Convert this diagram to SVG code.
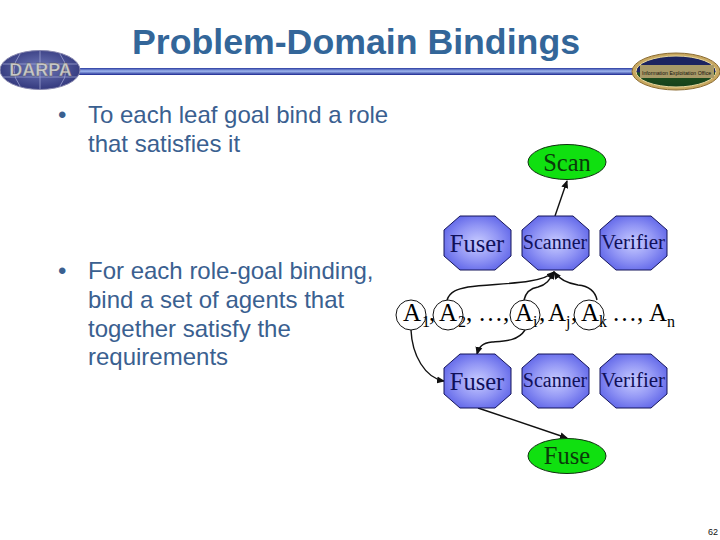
<svg xmlns="http://www.w3.org/2000/svg" width="720" height="540" viewBox="0 0 720 540">
<style>
.s{font-family:"Liberation Sans",Arial,sans-serif}
.r{font-family:"Liberation Serif","Times New Roman",serif}
.b{font-size:24px;fill:#3a6090}
.o{fill:url(#og);stroke:#14145a;stroke-width:1}
.ol{font-size:24.500px;fill:#10105a;text-anchor:middle}
.os{font-size:20px;fill:#10105a;text-anchor:middle}
.ov{font-size:21px;fill:#10105a;text-anchor:middle}
.g{fill:#10e010;stroke:#103010;stroke-width:1}
.gl{font-size:24.500px;fill:#0a3a0a;text-anchor:middle}
.a{font-size:25px;fill:#000}
.sub{font-size:16px;fill:#000}
.c{fill:none;stroke:#111;stroke-width:1}
.e{fill:none;stroke:#111;stroke-width:1.400}
</style>
<defs>
<radialGradient id="og" cx="50%" cy="50%" r="58%"><stop offset="0" stop-color="#c8ccff"/><stop offset="0.55" stop-color="#9296f5"/><stop offset="1" stop-color="#5e64e8"/></radialGradient>
<linearGradient id="bar" x1="0" y1="0" x2="0" y2="1"><stop offset="0" stop-color="#2a3aa0"/><stop offset="0.45" stop-color="#a0b8f0"/><stop offset="1" stop-color="#1c2890"/></linearGradient>
<radialGradient id="globe" cx="50%" cy="45%" r="60%"><stop offset="0" stop-color="#6f78b8"/><stop offset="1" stop-color="#2e3378"/></radialGradient>
<linearGradient id="ie" x1="0" y1="0" x2="0" y2="1"><stop offset="0" stop-color="#1c2460"/><stop offset="0.5" stop-color="#1c2460"/><stop offset="0.55" stop-color="#1e5020"/><stop offset="1" stop-color="#16401a"/></linearGradient>
<marker id="ar" markerWidth="8" markerHeight="8" refX="7" refY="4" orient="auto" markerUnits="userSpaceOnUse"><path d="M0,0.500L8,4L0,7.500Z" fill="#111"/></marker>
<polygon id="oct" points="-17.500,-27 17.500,-27 33.500,-13 33.500,13 17.500,27 -17.500,27 -33.500,13 -33.500,-13"/>
</defs>

<g id="header">
<text class="s" x="356" y="54" font-size="35.700" font-weight="700" fill="#336699" text-anchor="middle">Problem-Domain Bindings</text>
<rect x="78" y="68" width="556" height="7" fill="url(#bar)"/>
</g>

<g id="darpa-logo">
<ellipse cx="40" cy="70" rx="40" ry="19.500" fill="url(#globe)" stroke="#8a8ab0" stroke-width="1"/>
<path d="M40,51V89M20,54Q8,70 20,86M60,54Q72,70 60,86M3,64H77M3,77H77" fill="none" stroke="#a8acd8" stroke-width="0.700"/>
<text class="s" x="40.500" y="76" font-size="18" font-weight="700" fill="#c8c8c8" stroke="#555" stroke-width="0.300" text-anchor="middle">DARPA</text>
</g>

<g id="ieo-logo">
<ellipse cx="676" cy="71.500" rx="44" ry="18.500" fill="#c8a860" stroke="#8a6a30" stroke-width="1"/>
<ellipse cx="676" cy="71.500" rx="40" ry="15.500" fill="url(#ie)" stroke="#e8d8a0" stroke-width="1"/>
<rect x="640" y="65" width="74" height="13" fill="#a89a68"/>
<text class="s" x="642" y="74.500" font-size="5.200" fill="#10100a">Information Exploitation Office</text>
</g>

<g id="bullets" class="s b">
<text x="58" y="123">•</text>
<text x="88" y="123">To each leaf goal bind a role</text>
<text x="88" y="152">that satisfies it</text>
<text x="58" y="279">•</text>
<text x="88" y="279">For each role-goal binding,</text>
<text x="88" y="308">bind a set of agents that</text>
<text x="88" y="337">together satisfy the</text>
<text x="88" y="365">requirements</text>
</g>

<g id="connectors">
<path class="e" d="M555,216L567,181" marker-end="url(#ar)"/>
<path class="e" d="M447,300C450,291 458,289 468,287C495,283 540,285 554,272" marker-end="url(#ar)"/>
<path class="e" d="M524,300C526,291 532,288 538,287C546,285 550,280 554,272" marker-end="url(#ar)"/>
<path class="e" d="M597,300C595,290 588,286 578,285C566,283 559,279 554,272" marker-end="url(#ar)"/>
<path class="e" d="M411,330C412,355 425,378 444,381" marker-end="url(#ar)"/>
<path class="e" d="M525,330C518,341 505,341 492,342C482,343 479,347 477,354" marker-end="url(#ar)"/>
<path class="e" d="M478,408L567,438" marker-end="url(#ar)"/>
</g>

<g id="node-scan"><ellipse class="g" cx="567" cy="162" rx="39" ry="17.500"/><text class="r gl" x="567" y="171">Scan</text></g>
<g id="node-fuser-top"><use href="#oct" class="o" x="477.500" y="243"/><text class="r ol" x="477" y="252">Fuser</text></g>
<g id="node-scanner-top"><use href="#oct" class="o" x="555.500" y="243"/><text class="r os" x="555" y="249">Scanner</text></g>
<g id="node-verifier-top"><use href="#oct" class="o" x="633.500" y="243"/><text class="r ov" x="633" y="249">Verifier</text></g>

<g id="agents">
<text class="r a" x="403" y="321">A</text><text class="r sub" x="422" y="327">1</text><text class="r a" x="429" y="321">,</text>
<text class="r a" x="439" y="321">A</text><text class="r sub" x="458" y="327">2</text><text class="r a" x="466" y="321">,</text><text class="r a" x="478" y="321">…,</text>
<text class="r a" x="515" y="321">A</text><text class="r sub" x="533" y="327">i</text><text class="r a" x="539" y="321">,</text>
<text class="r a" x="548" y="321">A</text><text class="r sub" x="566" y="327">j</text><text class="r a" x="571" y="321">,</text>
<text class="r a" x="581" y="321">A</text><text class="r sub" x="599" y="327">k</text><text class="r a" x="612" y="321">…,</text>
<text class="r a" x="649" y="321">A</text><text class="r sub" x="667" y="327">n</text>
</g>
<g id="agent-rings">
<circle class="c" cx="411" cy="315" r="15"/>
<circle class="c" cx="448" cy="315" r="15"/>
<circle class="c" cx="525" cy="315" r="15"/>
<circle class="c" cx="589" cy="315" r="15"/>
</g>

<g id="node-fuser-bottom"><use href="#oct" class="o" x="477.500" y="381"/><text class="r ol" x="477" y="390">Fuser</text></g>
<g id="node-scanner-bottom"><use href="#oct" class="o" x="555.500" y="381"/><text class="r os" x="555" y="387">Scanner</text></g>
<g id="node-verifier-bottom"><use href="#oct" class="o" x="633.500" y="381"/><text class="r ov" x="633" y="387">Verifier</text></g>
<g id="node-fuse"><ellipse class="g" cx="567" cy="456" rx="39" ry="17.500"/><text class="r gl" x="567" y="464">Fuse</text></g>

<text class="s" x="718" y="535" font-size="9" fill="#111" text-anchor="end">62</text>
</svg>
